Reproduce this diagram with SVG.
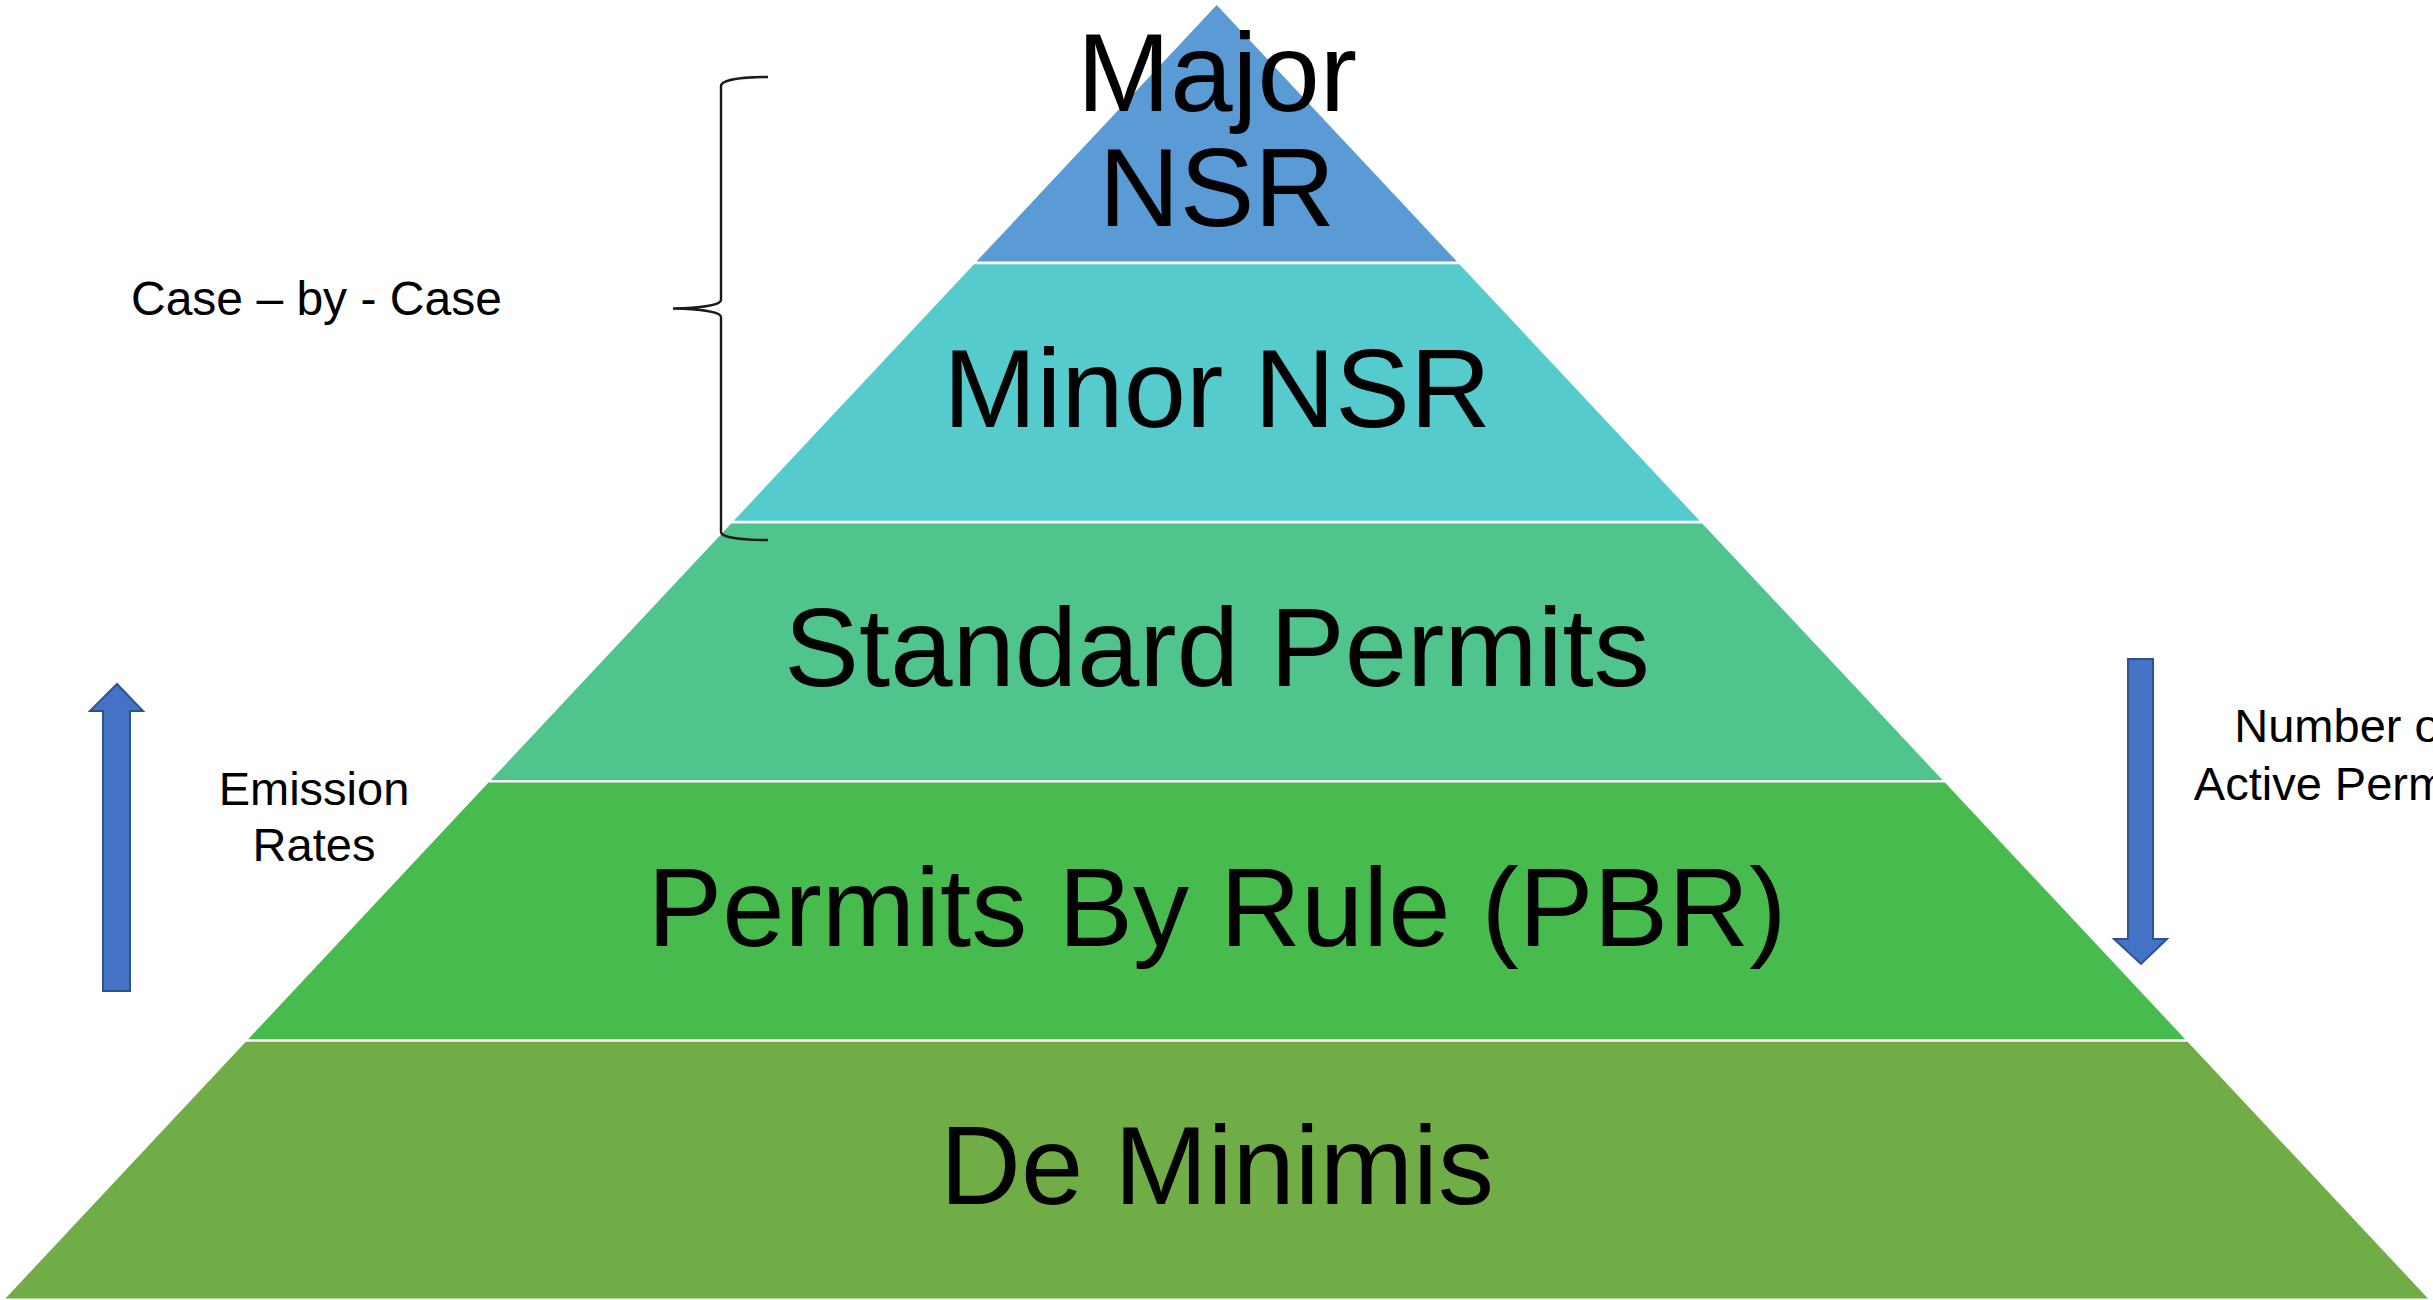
<svg xmlns="http://www.w3.org/2000/svg" width="2433" height="1300" viewBox="0 0 2433 1300">
<style>
  text { font-family: "Liberation Sans", Arial, sans-serif; fill: #000; }
  .tier-label { font-size: 112px; text-anchor: middle; }
  .side-label { font-size: 47px; }
  .mid { text-anchor: middle; }
  .arrow { fill: #4472C4; stroke: #2F528F; stroke-width: 2; }
  .brace { fill: none; stroke: #1a1a1a; stroke-width: 2.4; }
</style>
<rect width="2433" height="1300" fill="#FFFFFF"/>

<g id="tier-major-nsr">
  <polygon points="1216.7,5 1457,261.6 976.4,261.6" fill="#5B9BD5"/>
  <text class="tier-label" x="1217" y="111">Major</text>
  <text class="tier-label" x="1217" y="226">NSR</text>
</g>

<g id="tier-minor-nsr">
  <polygon points="974,264.2 1459.4,264.2 1699.7,520.8 733.7,520.8" fill="#55CBCD"/>
  <text class="tier-label" x="1217" y="427">Minor NSR</text>
</g>

<g id="tier-standard-permits">
  <polygon points="731.2,523.4 1702.2,523.4 1942.5,780 490.9,780" fill="#4FC48C"/>
  <text class="tier-label" x="1217" y="686">Standard Permits</text>
</g>

<g id="tier-pbr">
  <polygon points="488.5,782.6 1944.9,782.6 2185.2,1039.2 248.2,1039.2" fill="#48BB4F"/>
  <text class="tier-label" x="1217" y="946">Permits By Rule (PBR)</text>
</g>

<g id="tier-de-minimis">
  <polygon points="245.8,1041.8 2187.6,1041.8 2428,1298.5 5.4,1298.5" fill="#70AD47"/>
  <text class="tier-label" x="1217" y="1204">De Minimis</text>
</g>

<g id="case-by-case">
  <path class="brace" d="M768,77 C740,77 721,80 721,86 L721,300 C721,305 700,308 673,308.5 C700,309 721,312 721,317 L721,532 C721,537 740,540 768,540"/>
  <text class="side-label" x="131" y="315" style="font-size:48px">Case – by - Case</text>
</g>

<g id="emission-rates">
  <polygon class="arrow" points="117,684 143,711 130,711 130,991 103,991 103,711 90,711"/>
  <text class="side-label mid" x="314" y="805">Emission</text>
  <text class="side-label mid" x="314" y="861">Rates</text>
</g>

<g id="active-permits">
  <polygon class="arrow" points="2128,659 2153,659 2153,939 2167,939 2141,964 2114,939 2128,939"/>
  <text class="side-label mid" x="2344" y="742">Number of</text>
  <text class="side-label mid" x="2344" y="800">Active Permits</text>
</g>

<g id="connectors"></g>
</svg>
